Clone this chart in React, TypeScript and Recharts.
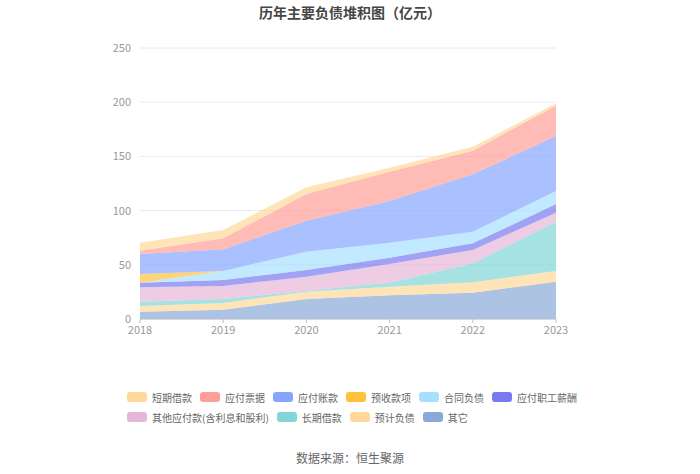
import { AreaChart, Area, XAxis, YAxis, CartesianGrid } from 'recharts'

const years = ['2018', '2019', '2020', '2021', '2022', '2023']

// 单位：亿元，自下而上堆叠
const qita = [6.7, 8.6, 18.5, 21.9, 24.3, 34.4]
const yujiFuzhai = [5.3, 6.2, 6.7, 7.9, 9.5, 9.9]
const changqiJiekuan = [4.0, 3.7, 0.9, 3.7, 17.6, 45.5]
const qitaYingfu = [13.2, 11.9, 12.9, 17.2, 12.3, 8.3]
const zhigongXinchou = [4.3, 5.6, 6.2, 5.9, 6.1, 8.0]
const hetongFuzhai = [0, 8.3, 16.9, 13.8, 10.7, 12.0]
const yushouKuanxiang = [8.0, 0, 0, 0, 0, 0]
const yingfuZhangkuan = [18.5, 20.0, 28.6, 38.5, 53.0, 50.7]
const yingfuPiaoju = [3.0, 10.1, 24.6, 27.0, 21.8, 28.0]
const duanqiJiekuan = [7.4, 7.6, 6.2, 3.7, 3.7, 2.2]

const yTicks = [0, 50, 100, 150, 200, 250]

const FONT = "'Noto Sans CJK SC', 'Noto Sans', sans-serif"

// legend order (top of stack first)
const series = [
  { key: 'duanqi', name: '短期借款', color: '#FFD898', values: duanqiJiekuan },
  { key: 'piaoju', name: '应付票据', color: '#FF9E96', values: yingfuPiaoju },
  { key: 'zhangkuan', name: '应付账款', color: '#87A5FF', values: yingfuZhangkuan },
  { key: 'yushou', name: '预收款项', color: '#FFC23D', values: yushouKuanxiang },
  { key: 'hetong', name: '合同负债', color: '#A6E0FF', values: hetongFuzhai },
  { key: 'zhigong', name: '应付职工薪酬', color: '#7A7AF0', values: zhigongXinchou },
  { key: 'qitayingfu', name: '其他应付款(含利息和股利)', color: '#E6B6D8', values: qitaYingfu },
  { key: 'changqi', name: '长期借款', color: '#80D6D6', values: changqiJiekuan },
  { key: 'yuji', name: '预计负债', color: '#FFD89A', values: yujiFuzhai },
  { key: 'qita', name: '其它', color: '#8AA9D8', values: qita },
]

const data = years.map((year, i) => {
  const row: Record<string, string | number> = { year }
  series.forEach((s) => {
    row[s.key] = s.values[i]
  })
  return row
})

function LegendRow({ items, top }: { items: typeof series; top: number }) {
  return (
    <div
      style={{
        position: 'absolute',
        left: 127,
        top,
        display: 'flex',
        columnGap: 8,
        fontSize: 10,
        color: '#666',
        whiteSpace: 'nowrap',
      }}
    >
      {items.map((s) => (
        <div key={s.key} style={{ display: 'flex', alignItems: 'center', height: 12 }}>
          <span
            style={{
              display: 'inline-block',
              width: 20,
              height: 10,
              borderRadius: 3,
              background: s.color,
              marginRight: 5,
            }}
          />
          <span>{s.name}</span>
        </div>
      ))}
    </div>
  )
}

export default function App() {
  return (
    <div
      style={{
        position: 'absolute',
        left: 0,
        top: 0,
        width: 700,
        height: 474,
        background: '#fff',
        fontFamily: FONT,
      }}
    >
      <div
        style={{
          position: 'absolute',
          top: 2,
          width: 700,
          textAlign: 'center',
          fontSize: 14,
          fontWeight: 'bold',
          color: '#464646',
        }}
      >
        历年主要负债堆积图（亿元）
      </div>
      <AreaChart
        width={700}
        height={474}
        data={data}
        margin={{ top: 48, right: 144, left: 100, bottom: 125 }}
      >
        <CartesianGrid vertical={false} stroke="#E6EAF2" />
        <XAxis
          dataKey="year"
          height={30}
          tick={{ fill: '#999', fontSize: 11, fontFamily: FONT, dy: 1 }}
          axisLine={{ stroke: '#B8C0D0' }}
          tickLine={{ stroke: '#B8C0D0' }}
          tickSize={4}
          interval={0}
        />
        <YAxis
          width={40}
          domain={[0, 250]}
          ticks={yTicks}
          tick={{ fill: '#999', fontSize: 11, fontFamily: FONT, dx: -1 }}
          axisLine={false}
          tickLine={false}
        />
        {series
          .slice()
          .reverse()
          .map((s) => (
            <Area
              key={s.key}
              type="linear"
              dataKey={s.key}
              name={s.name}
              stackId="1"
              stroke="none"
              fill={s.color}
              fillOpacity={0.7}
              isAnimationActive={false}
            />
          ))}
      </AreaChart>
      <LegendRow items={series.slice(0, 6)} top={391} />
      <LegendRow items={series.slice(6)} top={411} />
      <div
        style={{
          position: 'absolute',
          top: 449,
          width: 700,
          textAlign: 'center',
          fontSize: 12,
          color: '#666',
        }}
      >
        数据来源：恒生聚源
      </div>
    </div>
  )
}
